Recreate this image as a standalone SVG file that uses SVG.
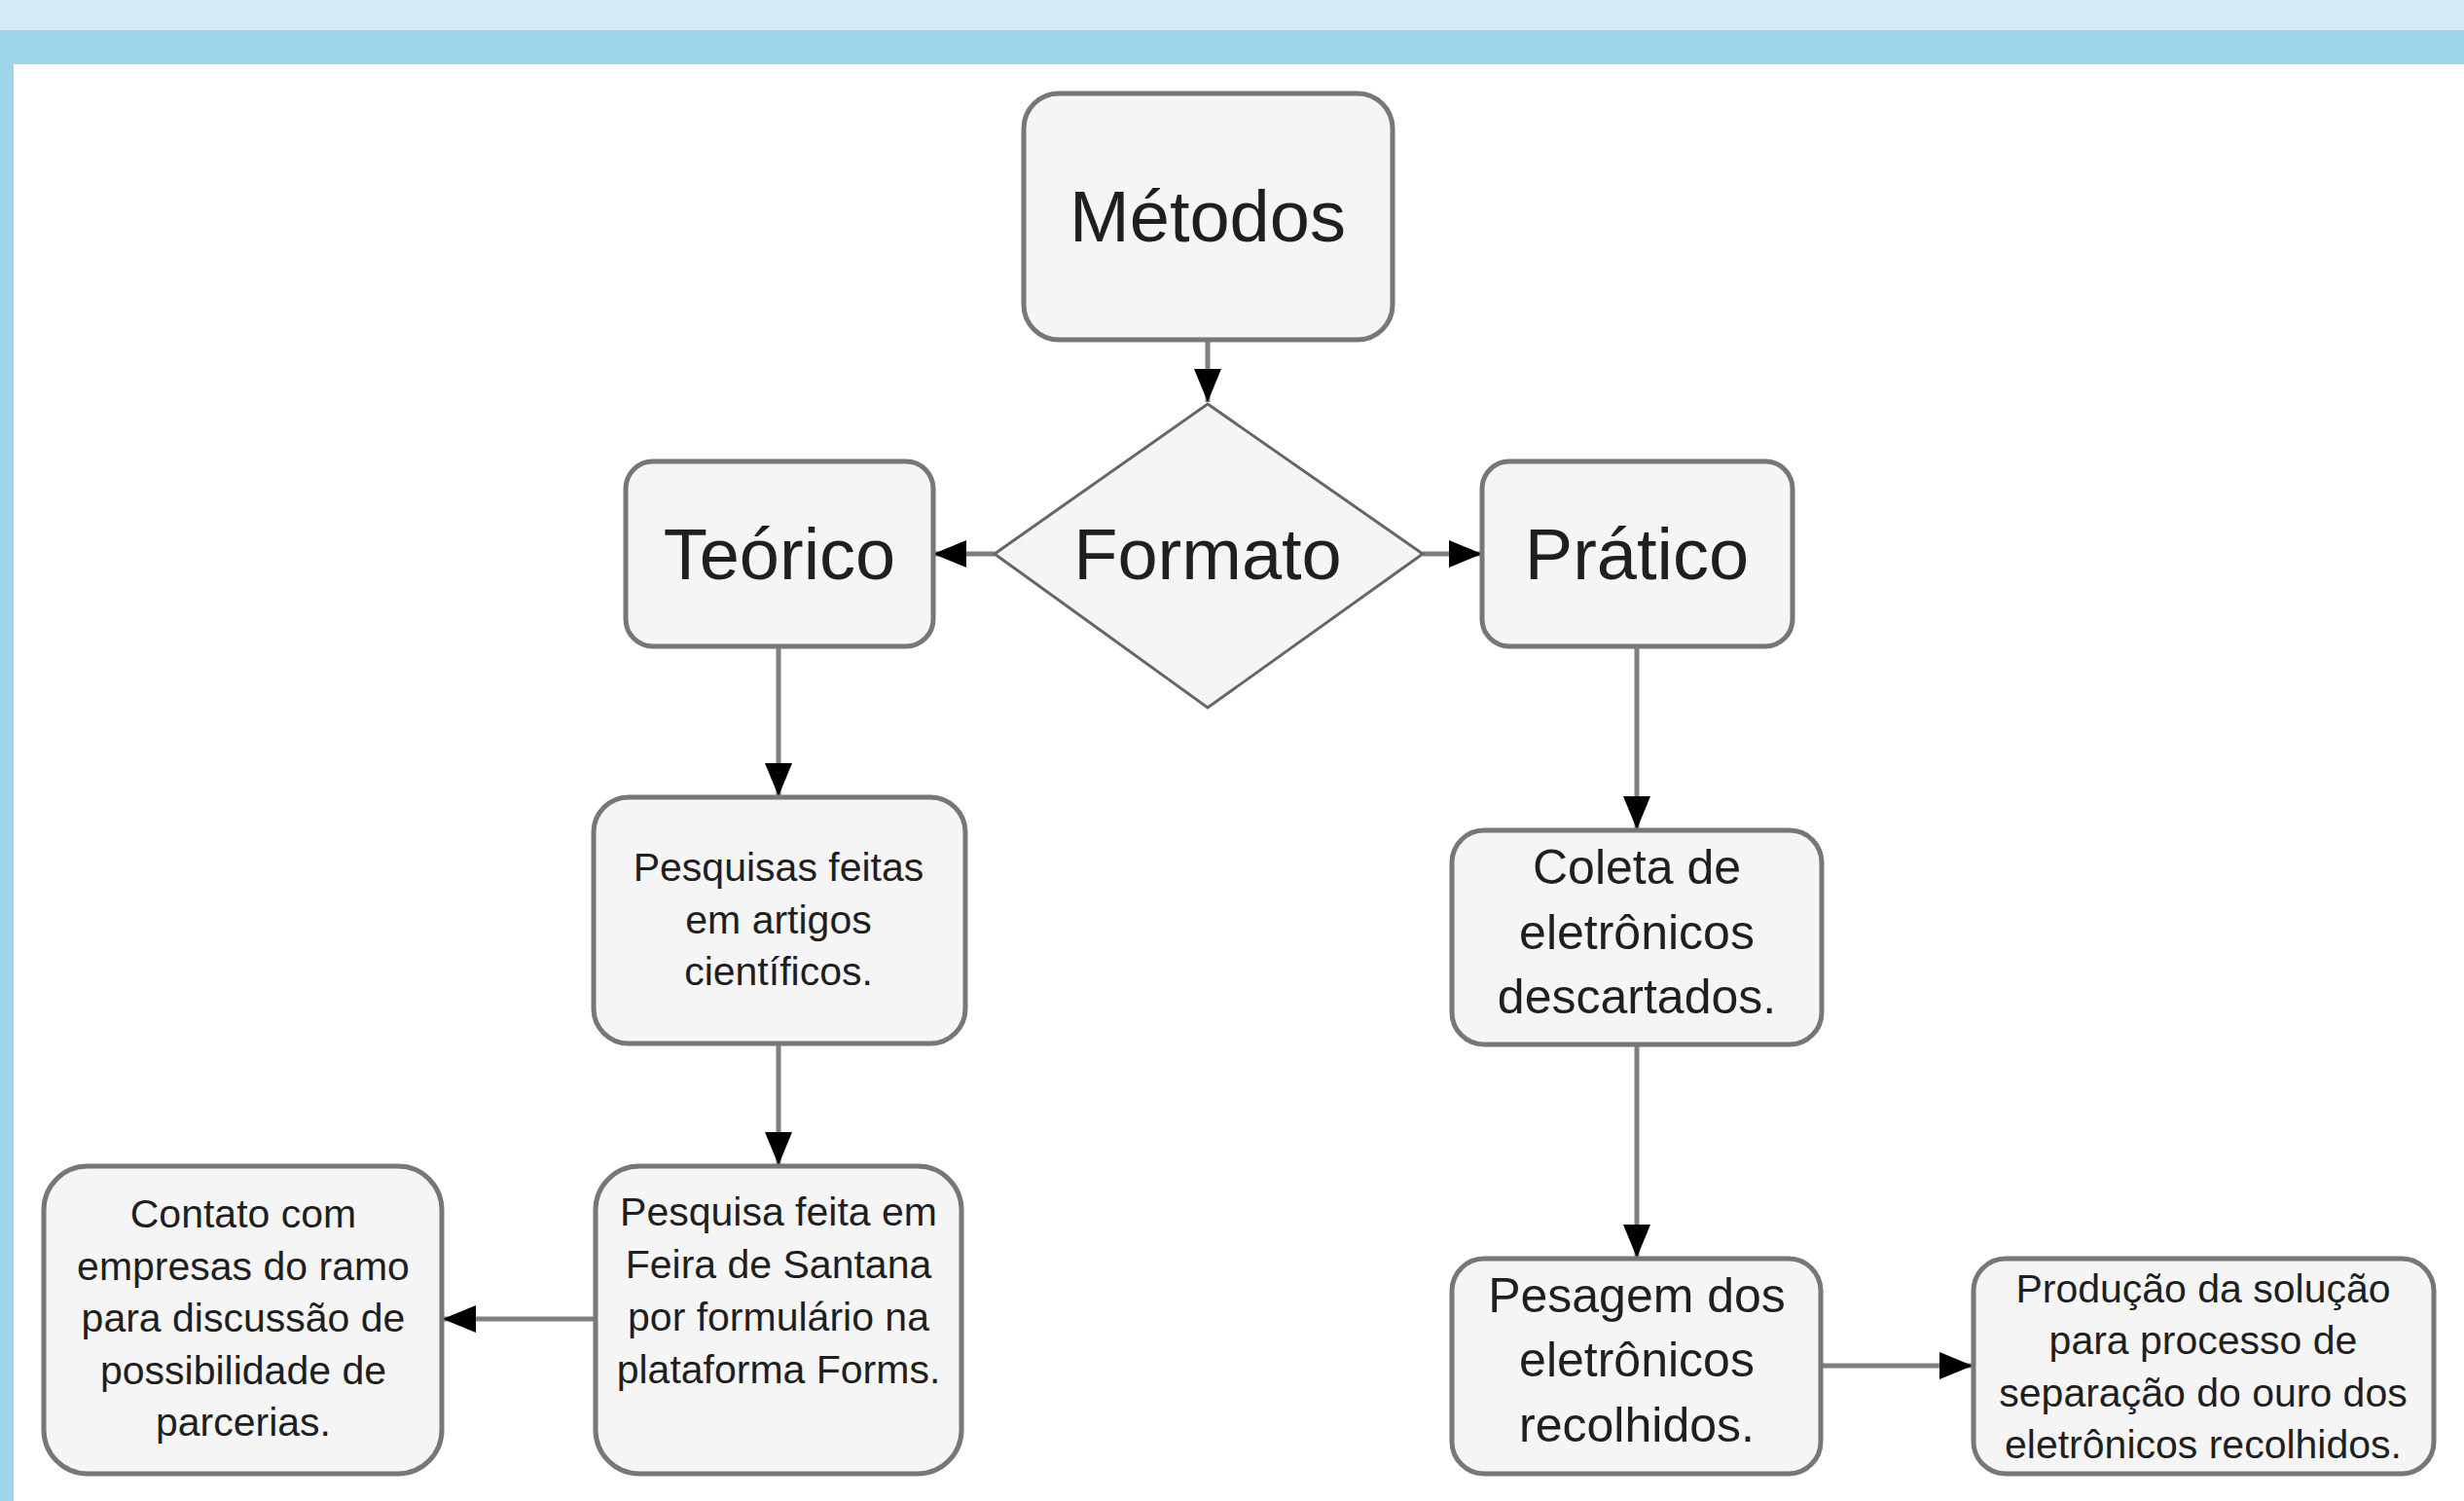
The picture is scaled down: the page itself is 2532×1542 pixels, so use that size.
<svg xmlns="http://www.w3.org/2000/svg" width="2532" height="1542" viewBox="0 0 2532 1542">
<style>
.box{fill:#f5f5f5;stroke:#777777;stroke-width:5}
.dia{fill:#f5f5f5;stroke:#666666;stroke-width:3}
.t{font-family:"Liberation Sans",Arial,sans-serif;fill:#1f1f1f;text-anchor:middle}
.big{font-size:74px}
.mid{font-size:50px}
.sm{font-size:41px}
.con{fill:none;stroke:#7f7f7f;stroke-width:5}
</style>
<defs>
<marker id="arr" markerUnits="userSpaceOnUse" markerWidth="34" markerHeight="28" refX="34" refY="14" orient="auto">
<path d="M0,0 L34,14 L0,28 z" fill="#000"/>
</marker>
</defs>
<rect x="0" y="0" width="2532" height="1542" fill="#ffffff"/>
<rect x="0" y="0" width="2532" height="31" fill="#d4ebfa"/>
<rect x="0" y="31" width="2532" height="35" fill="#9fd5ea"/>
<rect x="0" y="66" width="14" height="1476" fill="#9fd5ea"/>

<g id="connectors">
<line class="con" x1="1241" y1="350" x2="1241" y2="413" marker-end="url(#arr)"/>
<line class="con" x1="1022" y1="569" x2="959" y2="569" marker-end="url(#arr)"/>
<line class="con" x1="1462" y1="569" x2="1523" y2="569" marker-end="url(#arr)"/>
<line class="con" x1="800" y1="665" x2="800" y2="818" marker-end="url(#arr)"/>
<line class="con" x1="800" y1="1072" x2="800" y2="1197" marker-end="url(#arr)"/>
<line class="con" x1="612" y1="1355" x2="455" y2="1355" marker-end="url(#arr)"/>
<line class="con" x1="1682" y1="663" x2="1682" y2="852" marker-end="url(#arr)"/>
<line class="con" x1="1682" y1="1073" x2="1682" y2="1292" marker-end="url(#arr)"/>
<line class="con" x1="1871" y1="1403" x2="2027" y2="1403" marker-end="url(#arr)"/>
</g>

<g id="metodos">
<rect class="box" x="1052" y="96" width="379" height="253" rx="36"/>
<text class="t big" x="1241" y="248">Métodos</text>
</g>
<g id="formato">
<polygon class="dia" points="1241,415 1462,569 1241,727 1022,569"/>
<text class="t big" x="1241" y="595">Formato</text>
</g>
<g id="teorico">
<rect class="box" x="643" y="474" width="316" height="190" rx="28"/>
<text class="t big" x="801" y="595">Teórico</text>
</g>
<g id="pratico">
<rect class="box" x="1523" y="474" width="319" height="190" rx="28"/>
<text class="t big" x="1682" y="595">Prático</text>
</g>
<g id="pesquisas-artigos">
<rect class="box" x="610" y="819" width="382" height="253" rx="36"/>
<text class="t sm" x="800" y="905">Pesquisas feitas</text>
<text class="t sm" x="800" y="959">em artigos</text>
<text class="t sm" x="800" y="1012">científicos.</text>
</g>
<g id="pesquisa-feira">
<rect class="box" x="612" y="1198" width="376" height="316" rx="45"/>
<text class="t sm" x="800" y="1259">Pesquisa feita em</text>
<text class="t sm" x="800" y="1313">Feira de Santana</text>
<text class="t sm" x="800" y="1367">por formulário na</text>
<text class="t sm" x="800" y="1421">plataforma Forms.</text>
</g>
<g id="contato">
<rect class="box" x="45" y="1198" width="409" height="316" rx="45"/>
<text class="t sm" x="250" y="1261">Contato com</text>
<text class="t sm" x="250" y="1315">empresas do ramo</text>
<text class="t sm" x="250" y="1368">para discussão de</text>
<text class="t sm" x="250" y="1422">possibilidade de</text>
<text class="t sm" x="250" y="1475">parcerias.</text>
</g>
<g id="coleta">
<rect class="box" x="1492" y="853" width="380" height="220" rx="33"/>
<text class="t mid" x="1682" y="908">Coleta de</text>
<text class="t mid" x="1682" y="975">eletrônicos</text>
<text class="t mid" x="1682" y="1041">descartados.</text>
</g>
<g id="pesagem">
<rect class="box" x="1492" y="1293" width="379" height="221" rx="33"/>
<text class="t mid" x="1682" y="1348">Pesagem dos</text>
<text class="t mid" x="1682" y="1414">eletrônicos</text>
<text class="t mid" x="1682" y="1481">recolhidos.</text>
</g>
<g id="producao">
<rect class="box" x="2028" y="1293" width="473" height="221" rx="33"/>
<text class="t sm" x="2264" y="1338">Produção da solução</text>
<text class="t sm" x="2264" y="1391">para processo de</text>
<text class="t sm" x="2264" y="1445">separação do ouro dos</text>
<text class="t sm" x="2264" y="1498">eletrônicos recolhidos.</text>
</g>
</svg>
